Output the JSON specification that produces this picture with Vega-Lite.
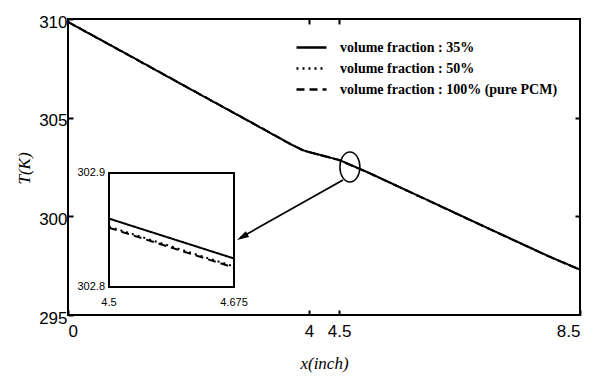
{
  "$schema": "https://vega.github.io/schema/vega-lite/v6.json",
  "width": 512,
  "height": 296,
  "autosize": {"type": "none"},
  "padding": {"left": 68, "top": 19, "right": 14, "bottom": 63},
  "background": "white",
  "config": {
    "view": {"stroke": "black", "strokeWidth": 2},
    "axis": {
      "domain": false,
      "grid": false,
      "tickColor": "black",
      "tickWidth": 2,
      "tickSize": -5,
      "labelFont": "Liberation Sans",
      "labelFontSize": 17,
      "labelColor": "black",
      "titleFont": "Liberation Serif",
      "titleFontStyle": "italic",
      "titleFontWeight": "normal",
      "titleFontSize": 17,
      "titleColor": "black"
    }
  },
  "datasets": {
    "curves": [
      {"x": 0, "T": 309.85, "series": "volume fraction : 35%"},
      {"x": 1, "T": 308.18, "series": "volume fraction : 35%"},
      {"x": 2, "T": 306.5, "series": "volume fraction : 35%"},
      {"x": 3, "T": 304.83, "series": "volume fraction : 35%"},
      {"x": 3.7, "T": 303.65, "series": "volume fraction : 35%"},
      {"x": 3.9, "T": 303.35, "series": "volume fraction : 35%"},
      {"x": 4.0, "T": 303.26, "series": "volume fraction : 35%"},
      {"x": 4.1, "T": 303.18, "series": "volume fraction : 35%"},
      {"x": 4.5, "T": 302.86, "series": "volume fraction : 35%"},
      {"x": 5, "T": 302.2, "series": "volume fraction : 35%"},
      {"x": 6, "T": 300.78, "series": "volume fraction : 35%"},
      {"x": 7, "T": 299.36, "series": "volume fraction : 35%"},
      {"x": 8, "T": 297.95, "series": "volume fraction : 35%"},
      {"x": 8.5, "T": 297.3, "series": "volume fraction : 35%"},
      {"x": 0, "T": 309.85, "series": "volume fraction : 50%"},
      {"x": 1, "T": 308.18, "series": "volume fraction : 50%"},
      {"x": 2, "T": 306.5, "series": "volume fraction : 50%"},
      {"x": 3, "T": 304.83, "series": "volume fraction : 50%"},
      {"x": 3.7, "T": 303.65, "series": "volume fraction : 50%"},
      {"x": 3.9, "T": 303.35, "series": "volume fraction : 50%"},
      {"x": 4.0, "T": 303.255, "series": "volume fraction : 50%"},
      {"x": 4.1, "T": 303.173, "series": "volume fraction : 50%"},
      {"x": 4.5, "T": 302.853, "series": "volume fraction : 50%"},
      {"x": 5, "T": 302.193, "series": "volume fraction : 50%"},
      {"x": 6, "T": 300.773, "series": "volume fraction : 50%"},
      {"x": 7, "T": 299.353, "series": "volume fraction : 50%"},
      {"x": 8, "T": 297.943, "series": "volume fraction : 50%"},
      {"x": 8.5, "T": 297.293, "series": "volume fraction : 50%"},
      {"x": 0, "T": 309.85, "series": "volume fraction : 100% (pure PCM)"},
      {"x": 1, "T": 308.18, "series": "volume fraction : 100% (pure PCM)"},
      {"x": 2, "T": 306.5, "series": "volume fraction : 100% (pure PCM)"},
      {"x": 3, "T": 304.83, "series": "volume fraction : 100% (pure PCM)"},
      {"x": 3.7, "T": 303.65, "series": "volume fraction : 100% (pure PCM)"},
      {"x": 3.9, "T": 303.35, "series": "volume fraction : 100% (pure PCM)"},
      {"x": 4.0, "T": 303.254, "series": "volume fraction : 100% (pure PCM)"},
      {"x": 4.1, "T": 303.172, "series": "volume fraction : 100% (pure PCM)"},
      {"x": 4.5, "T": 302.852, "series": "volume fraction : 100% (pure PCM)"},
      {"x": 5, "T": 302.192, "series": "volume fraction : 100% (pure PCM)"},
      {"x": 6, "T": 300.772, "series": "volume fraction : 100% (pure PCM)"},
      {"x": 7, "T": 299.352, "series": "volume fraction : 100% (pure PCM)"},
      {"x": 8, "T": 297.942, "series": "volume fraction : 100% (pure PCM)"},
      {"x": 8.5, "T": 297.292, "series": "volume fraction : 100% (pure PCM)"}
    ],
    "inset": [
      {"x": 4.5, "T": 302.86, "series": "volume fraction : 35%"},
      {"x": 4.675, "T": 302.825, "series": "volume fraction : 35%"},
      {"x": 4.5, "T": 302.853, "series": "volume fraction : 50%"},
      {"x": 4.675, "T": 302.818, "series": "volume fraction : 50%"},
      {"x": 4.5, "T": 302.852, "series": "volume fraction : 100% (pure PCM)"},
      {"x": 4.675, "T": 302.817, "series": "volume fraction : 100% (pure PCM)"}
    ]
  },
  "layer": [
    {
      "layer": [
        {
          "data": {"name": "curves"},
          "mark": {"type": "line", "color": "black", "strokeWidth": 2},
          "encoding": {
            "x": {
              "field": "x", "type": "quantitative",
              "scale": {"domain": [0, 8.5], "nice": false, "zero": false},
              "axis": {"orient": "bottom", "values": [0, 4, 4.5, 8.5], "format": ".1~f", "labelPadding": 13, "title": "x(inch)", "titleX": 256, "titleY": 48, "titleBaseline": "middle"}
            },
            "y": {
              "field": "T", "type": "quantitative",
              "scale": {"domain": [295, 310], "nice": false, "zero": false},
              "axis": {"orient": "left", "values": [295, 300, 305, 310], "format": "d", "labelPadding": 6, "labelOffset": 3, "title": "T(K)", "titleX": -44, "titleY": 149, "titleBaseline": "middle", "titleAngle": -90}
            },
            "strokeDash": {
              "field": "series", "type": "nominal",
              "scale": {
                "domain": ["volume fraction : 35%", "volume fraction : 50%", "volume fraction : 100% (pure PCM)"],
                "range": [[1, 0], [2, 4], [8, 5]]
              },
              "legend": {
                "orient": "none", "legendX": 227, "legendY": 18, "title": null,
                "symbolType": "stroke", "symbolSize": 900, "symbolStrokeWidth": 2.5, "symbolStrokeColor": "black",
                "labelFont": "Liberation Serif", "labelFontWeight": "bold", "labelFontSize": 14, "labelColor": "black",
                "labelOffset": 12, "labelLimit": 0, "clipHeight": 21, "rowPadding": 0
              }
            }
          }
        },
        {
          "data": {"values": [{"x": 4.68, "T": 302.5}]},
          "mark": {"type": "point", "shape": "M -0.667,0 A 0.667,1 0 1,0 0.667,0 A 0.667,1 0 1,0 -0.667,0 Z", "size": 900, "filled": false, "stroke": "black", "strokeWidth": 1.5, "opacity": 1},
          "encoding": {
            "x": {"field": "x", "type": "quantitative", "axis": {"orient": "top", "values": [4, 4.5], "labels": false, "title": null}},
            "y": {"field": "T", "type": "quantitative", "axis": {"orient": "right", "values": [300, 305], "labels": false, "title": null}}
          }
        },
        {
          "data": {"values": [{"x": 4.565, "T": 301.84, "x2": 2.87, "T2": 298.93}]},
          "mark": {"type": "rule", "color": "black", "strokeWidth": 1.8},
          "encoding": {
            "x": {"field": "x", "type": "quantitative", "axis": null},
            "y": {"field": "T", "type": "quantitative", "axis": null},
            "x2": {"field": "x2"},
            "y2": {"field": "T2"}
          }
        },
        {
          "data": {"values": [{"x": 2.892, "T": 298.95}]},
          "mark": {"type": "point", "shape": "M 1,0 L -1,-0.55 L -1,0.55 Z", "size": 144, "angle": 150.4, "filled": true, "color": "black", "opacity": 1},
          "encoding": {
            "x": {"field": "x", "type": "quantitative", "axis": null},
            "y": {"field": "T", "type": "quantitative", "axis": null}
          }
        }
      ],
      "resolve": {"axis": {"x": "independent", "y": "independent"}}
    },
    {
      "layer": [
        {
          "data": {"values": [{"x": 4.5, "x2": 4.675, "T": 302.8, "T2": 302.9}]},
          "mark": {"type": "rect", "fillOpacity": 0, "stroke": "black", "strokeWidth": 2},
          "encoding": {
            "x": {"field": "x", "type": "quantitative", "scale": {"domain": [4.5, 4.675], "range": [41, 166], "nice": false, "zero": false}, "axis": null},
            "x2": {"field": "x2"},
            "y": {"field": "T", "type": "quantitative", "scale": {"domain": [302.8, 302.9], "range": [268, 154], "nice": false, "zero": false}, "axis": null},
            "y2": {"field": "T2"}
          }
        },
        {
          "data": {"name": "inset"},
          "mark": {"type": "line", "color": "black", "strokeWidth": 2},
          "encoding": {
            "x": {"field": "x", "type": "quantitative", "axis": null},
            "y": {"field": "T", "type": "quantitative", "axis": null},
            "strokeDash": {"field": "series", "type": "nominal"}
          }
        },
        {
          "data": {"values": [{"x": 4.5, "T": 302.9, "label": "302.9"}, {"x": 4.5, "T": 302.8, "label": "302.8"}]},
          "mark": {"type": "text", "align": "right", "baseline": "middle", "dx": -4, "font": "Liberation Sans", "fontSize": 11, "color": "black"},
          "encoding": {
            "x": {"field": "x", "type": "quantitative", "axis": null},
            "y": {"field": "T", "type": "quantitative", "axis": null},
            "text": {"field": "label"}
          }
        },
        {
          "data": {"values": [{"x": 4.5, "T": 302.8, "label": "4.5"}, {"x": 4.675, "T": 302.8, "label": "4.675"}]},
          "mark": {"type": "text", "align": "center", "baseline": "middle", "dy": 16, "font": "Liberation Sans", "fontSize": 11, "color": "black"},
          "encoding": {
            "x": {"field": "x", "type": "quantitative", "axis": null},
            "y": {"field": "T", "type": "quantitative", "axis": null},
            "text": {"field": "label"}
          }
        }
      ]
    }
  ],
  "resolve": {"scale": {"x": "independent", "y": "independent"}}
}
